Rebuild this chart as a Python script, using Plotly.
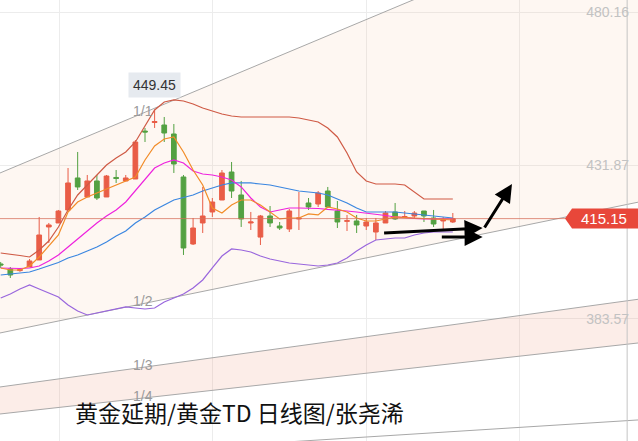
import plotly.graph_objects as go

# ---------------- data ----------------
bars = list(range(48))
open_ = [400.88, 399.30, 398.80, 399.93, 402.14, 412.52, 413.78, 417.87, 427.94, 421.96,
         427.00, 421.96, 428.10, 427.00, 427.62, 442.70, 445.40, 444.61, 441.78, 428.25,
         407.17, 413.78, 417.24, 421.01, 429.82, 422.59, 413.78, 409.34, 415.98, 412.83,
         411.89, 415.04, 420.07, 419.75, 423.84, 417.55, 414.30, 414.41, 412.83, 410.94,
         413.78, 417.24, 415.50, 415.98, 417.55, 415.35, 414.41, 414.09]
high = [401.51, 399.93, 399.62, 402.45, 415.67, 413.78, 417.87, 431.08, 436.12, 428.88,
        428.88, 428.88, 430.45, 428.88, 439.89, 443.67, 449.45, 447.13, 444.92, 428.88,
        415.35, 425.11, 421.64, 430.45, 432.97, 427.00, 417.24, 416.30, 419.12, 414.09,
        418.18, 423.53, 421.64, 423.84, 425.11, 420.70, 416.30, 416.30, 415.35, 415.35,
        417.55, 420.07, 417.55, 417.55, 417.55, 417.87, 415.67, 416.92]
low = [399.62, 396.47, 398.40, 399.93, 402.14, 407.48, 413.78, 417.87, 424.16, 421.96,
       421.01, 421.96, 426.37, 427.00, 427.62, 439.26, 443.67, 439.26, 429.51, 403.71,
       406.85, 410.63, 415.67, 421.01, 421.64, 412.52, 411.57, 406.85, 412.52, 411.57,
       410.94, 411.57, 417.87, 418.81, 418.50, 412.20, 411.26, 410.63, 411.57, 408.43,
       413.78, 414.72, 415.35, 415.35, 414.09, 412.52, 411.26, 413.78]
close = [400.56, 397.41, 399.10, 401.82, 410.00, 413.15, 417.55, 426.37, 425.11, 427.00,
         421.64, 428.56, 427.80, 427.94, 439.26, 442.41, 445.70, 442.09, 432.34, 405.91,
         412.20, 415.98, 420.38, 429.51, 423.84, 415.04, 414.09, 415.98, 413.78, 412.20,
         417.55, 415.35, 418.81, 423.21, 418.81, 414.09, 414.50, 413.15, 414.09, 413.78,
         416.92, 415.04, 415.80, 416.92, 415.98, 413.46, 414.72, 415.15]

boll_upper = [404.34, 404.02, 403.55, 403.08, 405.28, 408.11, 412.52, 417.87, 422.59, 425.73,
              428.88, 432.03, 434.23, 436.12, 439.26, 444.30, 449.33, 451.85, 452.48, 452.16,
              451.22, 449.96, 449.02, 448.07, 447.44, 447.13, 447.13, 447.13, 447.13, 447.13,
              447.13, 446.81, 446.18, 445.55, 443.67, 440.84, 435.80, 429.82, 426.99, 426.05,
              426.05, 426.05, 425.73, 423.53, 421.33, 421.33, 421.33, 421.33]
boll_mid = [397.41, 397.73, 398.04, 398.36, 399.30, 400.25, 401.35, 402.76, 403.71, 404.97,
            406.22, 407.80, 409.69, 411.26, 413.78, 415.67, 417.87, 419.44, 421.01, 421.80,
            422.59, 423.84, 424.79, 425.73, 426.37, 426.37, 426.37, 426.05, 425.73, 425.11,
            424.48, 423.84, 423.53, 423.21, 422.59, 421.33, 420.07, 418.50, 417.24, 417.24,
            417.24, 417.24, 416.92, 416.61, 416.30, 415.98, 415.67, 415.35]
boll_lower = [390.18, 391.44, 393.01, 394.27, 393.01, 391.75, 390.49, 387.98, 386.09, 384.83,
              385.46, 386.09, 386.72, 387.35, 387.03, 386.72, 387.03, 388.92, 390.18, 391.44,
              393.33, 395.84, 399.62, 403.39, 405.60, 405.28, 404.65, 403.39, 402.45, 401.82,
              401.19, 400.88, 400.56, 400.25, 400.56, 401.19, 402.76, 404.97, 406.85, 408.43,
              408.74, 409.06, 409.06, 410.00, 410.63, 410.94, 410.94, 410.94]
ma5 = [399.62, 398.99, 398.99, 400.25, 403.08, 406.54, 410.00, 417.24, 420.38, 421.96,
       423.21, 424.48, 425.73, 427.00, 428.25, 433.60, 438.00, 440.21, 440.84, 436.12,
       430.45, 425.73, 418.50, 416.92, 419.44, 421.01, 421.01, 419.44, 417.24, 415.04,
       415.35, 415.35, 416.61, 416.30, 418.81, 418.18, 417.24, 415.35, 414.41, 414.41,
       415.04, 415.67, 415.51, 415.35, 415.04, 414.88, 414.72, 414.72]
ma10 = [399.62, 399.46, 399.46, 399.62, 400.25, 401.82, 403.71, 406.22, 408.74, 411.26,
        413.78, 415.98, 417.87, 420.38, 423.84, 427.31, 431.08, 432.66, 433.60, 432.66,
        430.14, 429.19, 428.88, 428.25, 427.31, 425.11, 421.64, 418.81, 417.24, 417.87,
        418.50, 418.50, 418.50, 418.34, 418.03, 417.87, 417.55, 417.24, 416.92, 416.61,
        416.14, 415.67, 415.35, 415.20, 415.04, 415.04, 415.04, 415.04]

# Gann fan lines: price at left edge / right edge of the view
fan_names = ["1/1", "1/2", "1/3", "1/4", "1/8"]
fan_left = [429.51, 379.17, 362.18, 353.68, 339.21]
fan_right = [513.61, 420.32, 389.77, 376.02, 351.80]

y_ticks = [383.57, 431.87, 480.16]
y_ticktext = ["383.57", "431.87", "480.16"]
last_price = 415.15
high_label = "449.45"
high_bar = 16
title = "黄金延期/黄金TD 日线图/张尧浠"

# analyst arrows: (tail bar, tail price, head bar, head price)
arrows = [(39.7, 410.63, 50.1, 412.2),
          (45.7, 409.37, 50.1, 409.37),
          (50.2, 411.9, 53.15, 426.05)]

# ---------------- figure ----------------
X0, X1 = -0.073, 66.25
Y0, Y1 = 345.18, 483.94

fig = go.Figure()
fx = [X0, X1]

def fan(i, **kw):
    fig.add_trace(go.Scatter(x=fx, y=[fan_left[i], fan_right[i]], mode="lines",
                             line=dict(color="#a8a8a8", width=1), hoverinfo="skip",
                             showlegend=False, **kw))

fan(1)
fan(0, fill="tonexty", fillcolor="rgba(245,185,135,0.11)")
fan(3)
fan(2, fill="tonexty", fillcolor="rgba(240,150,120,0.17)")
fan(4)

def line(vals, color, w=1.2):
    fig.add_trace(go.Scatter(x=bars, y=vals, mode="lines", line=dict(color=color, width=w),
                             hoverinfo="skip", showlegend=False))

line(boll_upper, "#cf5a45")
line(boll_lower, "#9966dd")
line(boll_mid, "#3a86e0")
line(ma10, "#ee22dd")
line(ma5, "#f28c28")

fig.add_trace(go.Candlestick(
    x=bars, open=open_, high=high, low=low, close=close,
    increasing=dict(line=dict(color="#e8523f", width=1), fillcolor="#e8523f"),
    decreasing=dict(line=dict(color="#3f9f3a", width=1), fillcolor="#3f9f3a"),
    whiskerwidth=0, showlegend=False, hoverinfo="skip"))

shapes = []
# last price line
shapes.append(dict(type="line", xref="paper", x0=0, x1=1, yref="y", y0=last_price, y1=last_price,
                   line=dict(color="rgba(214,110,90,0.75)", width=1), layer="above"))
# right edge vertical line
shapes.append(dict(type="line", xref="paper", x0=0.983, x1=0.983, yref="paper", y0=0, y1=1,
                   line=dict(color="#c4c4c4", width=1)))
# price tag
ppx = (Y1 - Y0) / 441.0
h = 10 * ppx
shapes.append(dict(type="path", xref="paper", yref="y",
                   path=f"M 0.8856,{last_price} L 0.8966,{last_price + h} L 1,{last_price + h} "
                        f"L 1,{last_price - h} L 0.8966,{last_price - h} Z",
                   fillcolor="#e8473a", line=dict(width=0), layer="above"))

ann = []
ann.append(dict(x=0.946, xref="paper", xanchor="center", y=last_price, yref="y",
                yanchor="middle", text=f"{last_price:.2f}", showarrow=False,
                font=dict(color="white", size=15, family="Liberation Sans")))
ann.append(dict(x=high_bar, y=high[high_bar], yshift=25, text=high_label, showarrow=False,
                bgcolor="#e6eaef", borderpad=4,
                font=dict(color="#333333", size=14, family="Liberation Sans")))
lab_k = 14.8
for i, nm in enumerate(fan_names):
    yv = fan_left[i] + (fan_right[i] - fan_left[i]) * (lab_k - X0) / (X1 - X0)
    ann.append(dict(x=lab_k, y=yv + 0.8, text=nm, showarrow=False,
                    font=dict(color="#9a9a9a", size=14, family="Liberation Sans")))
for (tx, ty, hx, hy) in arrows:
    ann.append(dict(x=hx, y=hy, ax=tx, ay=ty, axref="x", ayref="y", xref="x", yref="y",
                    text="", showarrow=True, arrowhead=2, arrowsize=1.2, arrowwidth=3,
                    arrowcolor="#000000"))
ann.append(dict(x=0.376, y=0.066, xref="paper", yref="paper", xanchor="center",
                yanchor="middle", text=title, showarrow=False,
                font=dict(color="#111111", size=23, family="Noto Sans CJK SC")))

fig.update_layout(
    width=638, height=441, margin=dict(l=0, r=0, t=0, b=0),
    paper_bgcolor="white", plot_bgcolor="white",
    shapes=shapes, annotations=ann, showlegend=False,
    xaxis=dict(range=[X0, X1], showticklabels=False, showgrid=True, gridcolor="#ececec",
               tick0=6.1, dtick=15.96, zeroline=False, rangeslider=dict(visible=False),
               fixedrange=True),
    yaxis=dict(range=[Y0, Y1], side="right", tickvals=y_ticks, ticktext=y_ticktext,
               ticklabelposition="inside", ticks="", showgrid=True, gridcolor="#ececec",
               ticklabelstandoff=6,
               tickfont=dict(color="#c2c2c2", size=14, family="Liberation Sans"),
               zeroline=False, fixedrange=True),
)

fig.write_html("out.html", config={"displayModeBar": False},
               post_script="document.body.style.margin='0';document.body.style.overflow='hidden';")
